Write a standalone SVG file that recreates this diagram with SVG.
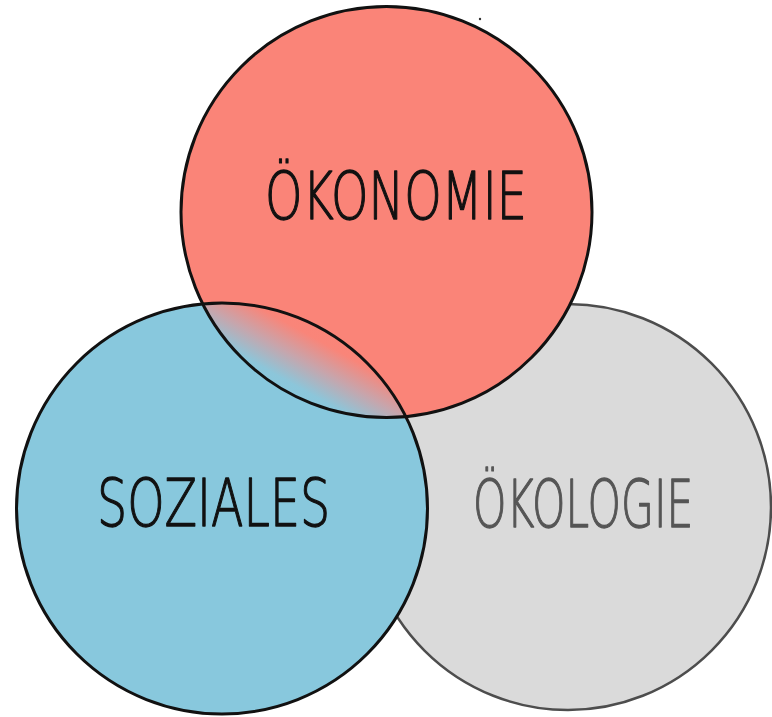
<svg xmlns="http://www.w3.org/2000/svg" width="772" height="717" viewBox="0 0 772 717">
  <style>
    .lbl { font-family: "DejaVu Sans", "Liberation Sans", sans-serif; font-weight: 200; font-size: 66px; stroke-width: 1.3; stroke-linejoin: round; }
    .outline { fill: none; stroke: #111; stroke-width: 3; }
  </style>
  <defs>
    <linearGradient id="lensGrad" gradientUnits="userSpaceOnUse" x1="283" y1="398" x2="324" y2="324">
      <stop offset="0" stop-color="#88C8DD"/>
      <stop offset="0.2" stop-color="#8CC6DA"/>
      <stop offset="0.5" stop-color="#C7A5AC"/>
      <stop offset="0.8" stop-color="#F98579"/>
      <stop offset="1" stop-color="#FA8478"/>
    </linearGradient>
    <clipPath id="clipBlue">
      <circle cx="222" cy="508.5" r="205.5"/>
    </clipPath>
  </defs>
  <rect width="772" height="717" fill="#ffffff"/>

  <g id="node-oekologie">
    <circle cx="568" cy="507" r="203" fill="#DADADA" stroke="#4d4d4d" stroke-width="2.5"/>
    <text class="lbl" transform="translate(473,527) scale(0.68,1)" x="0" y="0" textLength="324" lengthAdjust="spacingAndGlyphs" fill="#555555" stroke="#555555">ÖKOLOGIE</text>
  </g>

  <g id="node-oekonomie">
    <circle cx="386.5" cy="212" r="205.5" fill="#FA8478"/>
  </g>

  <g id="node-soziales">
    <circle cx="222" cy="508.5" r="205.5" fill="#88C8DD"/>
  </g>

  <g id="overlap">
    <circle cx="386.5" cy="212" r="205.5" fill="url(#lensGrad)" clip-path="url(#clipBlue)"/>
  </g>

  <g id="connectors">
    <circle class="outline" cx="386.5" cy="212" r="205.5"/>
    <circle class="outline" cx="222" cy="508.5" r="205.5"/>
  </g>

  <g id="labels">
    <text class="lbl" transform="translate(265,219) scale(0.68,1)" x="0" y="0" textLength="385" lengthAdjust="spacingAndGlyphs" fill="#111111" stroke="#111111">ÖKONOMIE</text>
    <text class="lbl" transform="translate(97,526) scale(0.68,1)" x="0" y="0" textLength="343" lengthAdjust="spacingAndGlyphs" fill="#111111" stroke="#111111">SOZIALES</text>
  </g>

  <circle cx="480" cy="19" r="1.2" fill="#333333"/>
</svg>
